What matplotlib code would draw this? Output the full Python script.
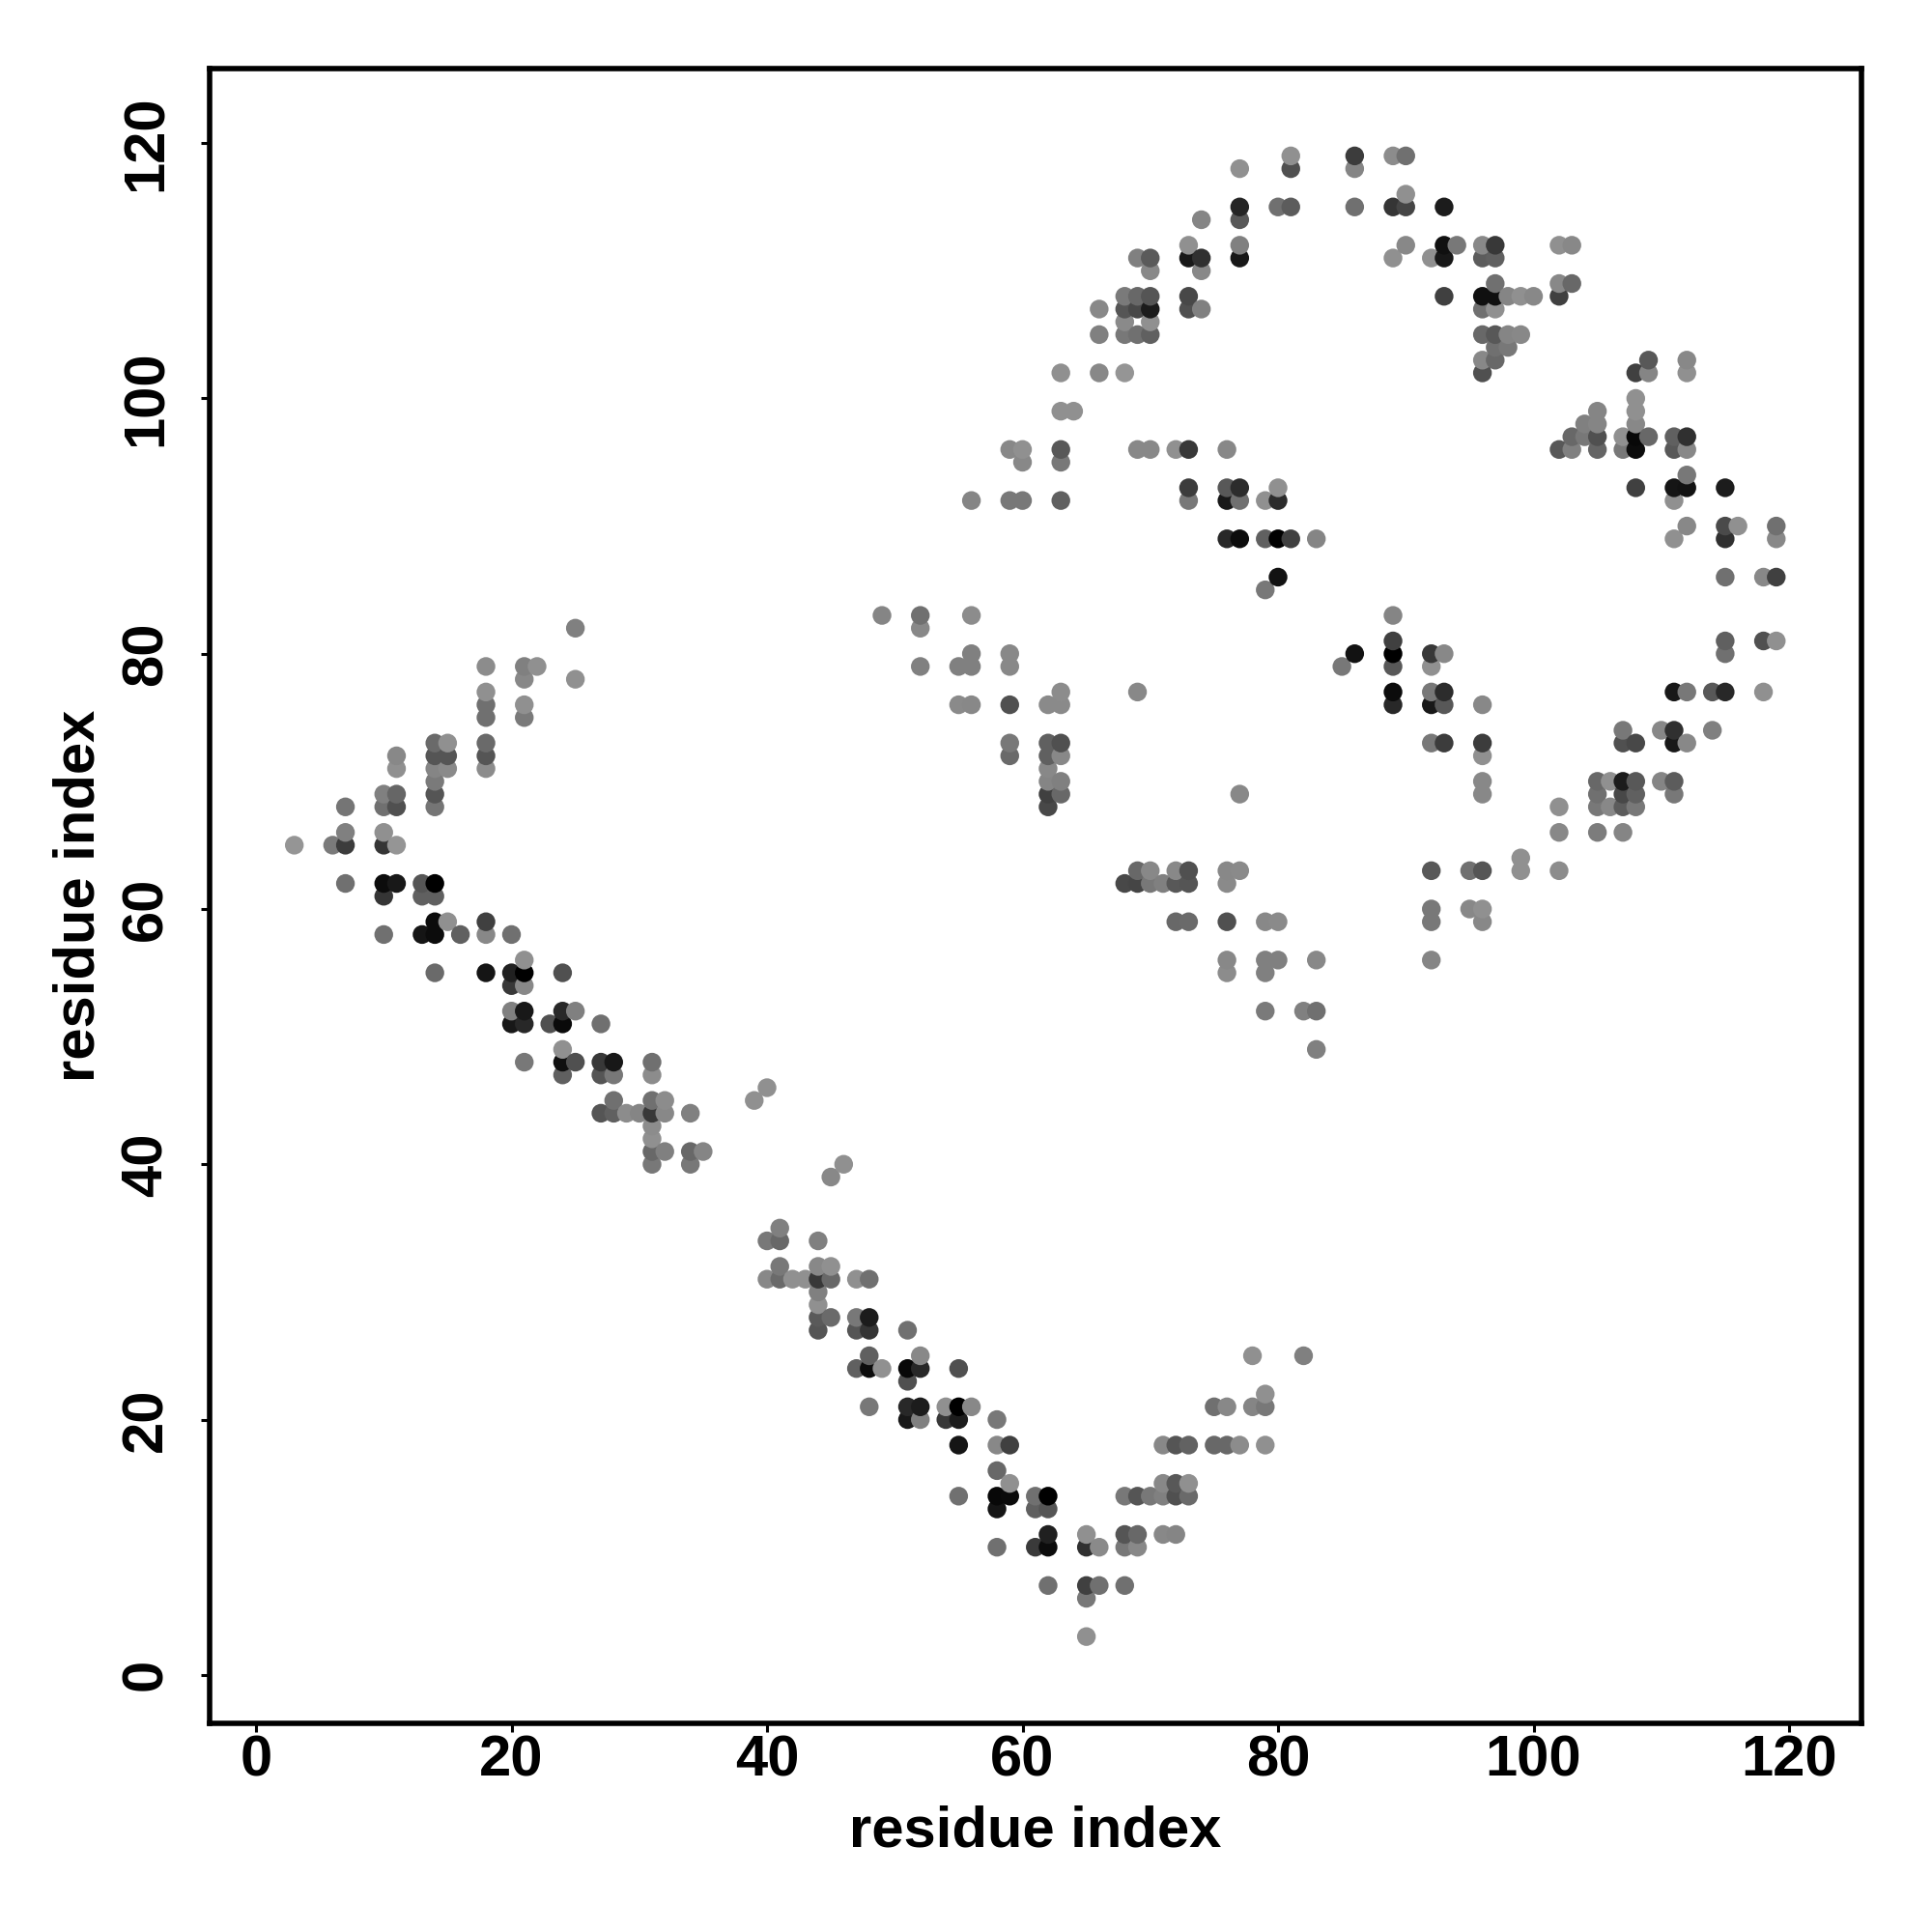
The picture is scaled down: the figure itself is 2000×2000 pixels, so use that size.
import numpy as np
import matplotlib
matplotlib.use('Agg')
import matplotlib.pyplot as plt

# contact map, shade is the grey level of each dot
res_x = [
    25, 25, 18, 21, 22, 21, 18, 18, 21, 18, 21,
    14, 15, 18, 11, 14, 15, 18, 11, 14, 15, 18, 14,
    10, 11, 14, 7, 10, 11, 14, 7, 10, 3, 6, 7, 10, 11,
    7, 10, 11, 13, 14, 10, 13, 14, 14, 15, 18, 10, 13, 14, 16, 18, 20,
    21, 14, 18, 20, 21, 24, 20, 21, 20, 21, 24, 25, 20, 21, 23, 24, 27,
    24, 21, 24, 25, 27, 28, 31, 24, 27, 28, 31,
    28, 31, 32, 27, 28, 29, 30, 31, 32, 34, 31, 31, 31, 32, 34, 35, 31, 34,
    40, 39, 46, 45, 41, 40, 41, 44, 41, 44, 45,
    40, 41, 42, 43, 44, 45, 47, 48, 44, 44, 44, 45, 47, 48, 44, 47, 48, 51,
    48, 52, 47, 48, 49, 51, 52, 55, 51,
    48, 51, 52, 54, 55, 56, 51, 52, 54, 55, 58, 55, 58, 59, 58, 59,
    55, 58, 59, 61, 62, 68, 69, 70, 71, 72, 73, 71, 72, 73,
    58, 61, 62, 62, 65, 68, 69, 71, 72, 58, 61, 62, 65, 66, 68, 69,
    62, 65, 66, 68, 65, 65,
    78, 82, 79, 75, 76, 78, 79, 71, 72, 73, 75, 76, 77, 79,
    77, 81, 81, 86, 86, 77, 80, 81, 74, 77, 73, 77,
    69, 70, 73, 74, 77, 70, 74, 68, 69, 70, 73,
    66, 68, 69, 70, 73, 74, 68, 70, 66, 68, 69, 70,
    63, 66, 68, 63, 64, 59, 60, 63, 69, 70, 72, 73, 76, 60, 63,
    73, 76, 77, 80, 56, 59, 60, 63, 73, 76, 77, 79, 80,
    76, 77, 79, 80, 81, 83, 80, 79, 49, 52, 56, 52,
    56, 59, 52, 55, 56, 59, 63, 69, 55, 56, 59, 62, 63,
    59, 62, 63, 59, 62, 63, 62, 62, 63, 62, 63, 77, 62,
    69, 70, 72, 73, 76, 77, 68, 69, 70, 71, 72, 73, 76,
    72, 73, 76, 79, 80, 76, 79, 80, 83, 76, 79, 79, 82, 83, 83,
    89, 90, 90, 89, 90, 93, 90, 93, 94, 96, 97, 102, 103,
    89, 92, 93, 96, 97, 97, 102, 103, 93, 96, 97, 98, 99, 100, 102, 96, 97,
    96, 97, 98, 99, 97, 98, 96, 97, 109, 112, 96, 108, 109, 112,
    108, 108, 105, 108, 104, 105, 103, 104, 105, 107, 108, 109, 111, 112,
    102, 103, 105, 107, 108, 111, 112, 112, 108, 111, 112, 115, 111,
    112, 115, 116, 119, 111, 115, 119, 115, 118, 119, 89,
    89, 115, 118, 119, 86, 89, 92, 93, 115, 85, 89, 92,
    89, 92, 93, 111, 112, 114, 115, 118, 89, 92, 93, 96,
    107, 110, 111, 114, 92, 93, 96, 107, 108, 111, 112, 96,
    96, 105, 106, 107, 108, 110, 111, 96, 105, 107, 108, 111,
    102, 105, 106, 107, 108, 102, 105, 107, 99, 92, 95, 96, 99, 102,
    92, 95, 96, 92, 96, 92, 86,
]
res_y = [
    82, 78, 79, 79, 79, 78, 77, 76, 76, 75, 75,
    73, 73, 73, 72, 72, 72, 72, 71, 71, 71, 71, 70,
    69, 69, 69, 68, 68, 68, 68, 66, 66, 65, 65, 65, 65, 65,
    62, 62, 62, 62, 62, 61, 61, 61, 59, 59, 59, 58, 58, 58, 58, 58, 58,
    56, 55, 55, 55, 55, 55, 54, 54, 52, 52, 52, 52, 51, 51, 51, 51, 51,
    49, 48, 48, 48, 48, 48, 48, 47, 47, 47, 47,
    45, 45, 45, 44, 44, 44, 44, 44, 44, 44, 43, 42, 41, 41, 41, 41, 40, 40,
    46, 45, 40, 39, 35, 34, 34, 34, 32, 32, 32,
    31, 31, 31, 31, 31, 31, 31, 31, 30, 29, 28, 28, 28, 28, 27, 27, 27, 27,
    25, 25, 24, 24, 24, 24, 24, 24, 23,
    21, 21, 21, 21, 21, 21, 20, 20, 20, 20, 20, 18, 18, 18, 16, 15,
    14, 14, 14, 14, 14, 14, 14, 14, 14, 14, 14, 15, 15, 15,
    13, 13, 13, 11, 11, 11, 11, 11, 11, 10, 10, 10, 10, 10, 10, 10,
    7, 7, 7, 7, 6, 3,
    25, 25, 22, 21, 21, 21, 21, 18, 18, 18, 18, 18, 18, 18,
    118, 119, 118, 119, 118, 115, 115, 115, 114, 114, 112, 112,
    111, 111, 111, 111, 111, 110, 110, 108, 108, 108, 108,
    107, 107, 107, 107, 107, 107, 106, 106, 105, 105, 105, 105,
    102, 102, 102, 99, 99, 96, 96, 96, 96, 96, 96, 96, 96, 95, 95,
    93, 93, 93, 93, 92, 92, 92, 92, 92, 92, 92, 92, 92,
    89, 89, 89, 89, 89, 89, 86, 85, 83, 83, 83, 82,
    80, 80, 79, 79, 79, 79, 77, 77, 76, 76, 76, 76, 76,
    73, 73, 73, 72, 72, 72, 71, 70, 70, 69, 69, 69, 68,
    63, 63, 63, 63, 63, 63, 62, 62, 62, 62, 62, 62, 62,
    59, 59, 59, 59, 59, 56, 56, 56, 56, 55, 55, 52, 52, 52, 49,
    119, 119, 116, 115, 115, 115, 112, 112, 112, 112, 112, 112, 112,
    111, 111, 111, 111, 111, 109, 109, 109, 108, 108, 108, 108, 108, 108, 108, 107, 107,
    105, 105, 105, 105, 104, 104, 103, 103, 103, 103, 102, 102, 102, 102,
    100, 99, 99, 98, 98, 98, 97, 97, 97, 97, 97, 97, 97, 97,
    96, 96, 96, 96, 96, 96, 96, 94, 93, 93, 93, 93, 92,
    90, 90, 90, 90, 89, 89, 89, 86, 86, 86, 83,
    81, 81, 81, 81, 80, 80, 80, 80, 80, 79, 79, 79,
    77, 77, 77, 77, 77, 77, 77, 77, 76, 76, 76, 76,
    74, 74, 74, 74, 73, 73, 73, 73, 73, 73, 73, 72,
    70, 70, 70, 70, 70, 70, 70, 69, 69, 69, 69, 69,
    68, 68, 68, 68, 68, 66, 66, 66, 64, 63, 63, 63, 63, 63,
    60, 60, 60, 59, 59, 56, 115,
]
shade = [
    0x80, 0x90, 0x8c, 0x80, 0x90, 0x88, 0x90, 0x70, 0x90, 0x70, 0x7a,
    0x6a, 0x90, 0x6a, 0x88, 0x55, 0x55, 0x55, 0x90, 0x85, 0x8a, 0x8c, 0x7a,
    0x80, 0x66, 0x55, 0x75, 0x70, 0x50, 0x75, 0x80, 0x90, 0x95, 0x7a, 0x3c, 0x35, 0x95,
    0x70, 0x0c, 0x18, 0x55, 0x00, 0x35, 0x60, 0x60, 0x0c, 0x90, 0x40, 0x70, 0x15, 0x0c, 0x60, 0x88, 0x70,
    0x90, 0x6a, 0x15, 0x20, 0x00, 0x50, 0x38, 0x88, 0x80, 0x18, 0x28, 0x80, 0x18, 0x28, 0x50, 0x0a, 0x70,
    0x90, 0x78, 0x10, 0x50, 0x38, 0x18, 0x70, 0x60, 0x55, 0x78, 0x8c,
    0x70, 0x70, 0x8c, 0x55, 0x60, 0x8c, 0x85, 0x38, 0x88, 0x80, 0x8c, 0x90, 0x68, 0x80, 0x68, 0x85, 0x78, 0x78,
    0x90, 0x90, 0x90, 0x88, 0x80, 0x78, 0x68, 0x80, 0x78, 0x88, 0x90,
    0x88, 0x6a, 0x90, 0x90, 0x38, 0x68, 0x90, 0x70, 0x80, 0x90, 0x5a, 0x6a, 0x78, 0x1c, 0x55, 0x55, 0x35, 0x70,
    0x60, 0x88, 0x60, 0x0c, 0x90, 0x08, 0x28, 0x50, 0x50,
    0x78, 0x28, 0x1c, 0x90, 0x00, 0x88, 0x18, 0x80, 0x38, 0x1c, 0x78, 0x15, 0x88, 0x40, 0x68, 0x90,
    0x70, 0x08, 0x0a, 0x70, 0x00, 0x78, 0x55, 0x78, 0x80, 0x50, 0x6a, 0x88, 0x58, 0x90,
    0x15, 0x60, 0x55, 0x20, 0x90, 0x55, 0x68, 0x88, 0x85, 0x70, 0x3a, 0x0c, 0x30, 0x8a, 0x78, 0x88,
    0x70, 0x40, 0x70, 0x70, 0x78, 0x90,
    0x90, 0x80, 0x90, 0x70, 0x88, 0x85, 0x78, 0x88, 0x55, 0x62, 0x68, 0x68, 0x8c, 0x90,
    0x90, 0x90, 0x50, 0x3c, 0x85, 0x25, 0x70, 0x5c, 0x85, 0x58, 0x90, 0x80,
    0x80, 0x5a, 0x18, 0x30, 0x18, 0x88, 0x88, 0x7a, 0x68, 0x55, 0x48,
    0x88, 0x55, 0x48, 0x1c, 0x50, 0x80, 0x8a, 0x90, 0x80, 0x78, 0x70, 0x60,
    0x90, 0x88, 0x95, 0x90, 0x90, 0x88, 0x90, 0x58, 0x88, 0x88, 0x90, 0x38, 0x88, 0x88, 0x78,
    0x3c, 0x58, 0x2c, 0x90, 0x85, 0x78, 0x78, 0x60, 0x78, 0x18, 0x70, 0x90, 0x2c,
    0x28, 0x0c, 0x60, 0x00, 0x40, 0x85, 0x12, 0x78, 0x85, 0x70, 0x8c, 0x88,
    0x80, 0x88, 0x80, 0x80, 0x80, 0x88, 0x8c, 0x88, 0x8a, 0x88, 0x50, 0x8a, 0x8a,
    0x78, 0x60, 0x50, 0x6a, 0x60, 0x88, 0x88, 0x85, 0x80, 0x40, 0x68, 0x88, 0x48,
    0x68, 0x88, 0x88, 0x50, 0x88, 0x8a, 0x48, 0x45, 0x78, 0x80, 0x58, 0x55, 0x8a,
    0x68, 0x6a, 0x50, 0x88, 0x8a, 0x88, 0x80, 0x80, 0x88, 0x8c, 0x80, 0x7a, 0x80, 0x70, 0x80,
    0x8c, 0x70, 0x90, 0x35, 0x45, 0x1c, 0x88, 0x10, 0x78, 0x88, 0x38, 0x90, 0x88,
    0x90, 0x90, 0x18, 0x5c, 0x60, 0x70, 0x88, 0x68, 0x40, 0x10, 0x10, 0x85, 0x90, 0x88, 0x40, 0x70, 0x90,
    0x68, 0x58, 0x85, 0x88, 0x70, 0x78, 0x88, 0x68, 0x58, 0x88, 0x50, 0x40, 0x85, 0x90,
    0x90, 0x90, 0x85, 0x88, 0x80, 0x85, 0x68, 0x78, 0x50, 0x90, 0x08, 0x68, 0x60, 0x30,
    0x58, 0x80, 0x65, 0x78, 0x0c, 0x58, 0x88, 0x78, 0x40, 0x15, 0x12, 0x1c, 0x90,
    0x88, 0x4a, 0x90, 0x70, 0x90, 0x30, 0x88, 0x70, 0x88, 0x40, 0x85,
    0x40, 0x60, 0x50, 0x90, 0x12, 0x00, 0x38, 0x88, 0x70, 0x78, 0x58, 0x90,
    0x0c, 0x78, 0x2c, 0x18, 0x78, 0x58, 0x28, 0x90, 0x28, 0x18, 0x58, 0x88,
    0x78, 0x88, 0x30, 0x80, 0x78, 0x3c, 0x3c, 0x50, 0x48, 0x18, 0x88, 0x90,
    0x88, 0x68, 0x90, 0x1c, 0x58, 0x85, 0x5c, 0x88, 0x70, 0x48, 0x60, 0x78,
    0x90, 0x78, 0x88, 0x5c, 0x78, 0x88, 0x7c, 0x85, 0x90, 0x58, 0x70, 0x55, 0x90, 0x8c,
    0x78, 0x88, 0x90, 0x78, 0x88, 0x85, 0x70,
]
tick_vals = [0, 20, 40, 60, 80, 100, 120]

res_x = np.array(res_x)
res_y = np.array(res_y)
shade = np.array(shade) / 255
orden = np.lexsort((res_y, res_x))

fig = plt.figure(figsize=(20, 20), dpi=100)
ax = fig.add_axes([217 / 2000, 1 - 1783.5 / 2000, (1927 - 217) / 2000, (1783.5 - 71) / 2000])
ax.scatter(res_x[orden], res_y[orden], s=195, c=[str(g) for g in shade[orden]], linewidths=0, zorder=3)

ax.set_xlim(-3.63, 125.67)
ax.set_ylim(-3.76, 125.84)
ax.set_xticks(tick_vals)
ax.set_yticks(tick_vals)

fuente = {'family': 'Liberation Sans', 'weight': 'bold', 'size': 43}
ax.set_xticklabels(tick_vals, **fuente)
ax.set_yticklabels(tick_vals, rotation=90, va='center', **fuente)
ax.tick_params(axis='x', length=6.5, width=2.2, pad=2)
ax.tick_params(axis='y', length=6.5, width=2.2, pad=20.5)
ax.set_xlabel('residue index', labelpad=12.8, **fuente)
ax.set_ylabel('residue index', labelpad=10.7, **fuente)
for lado in ax.spines.values():
    lado.set_linewidth(4)

fig.savefig('out.png', dpi=100)
